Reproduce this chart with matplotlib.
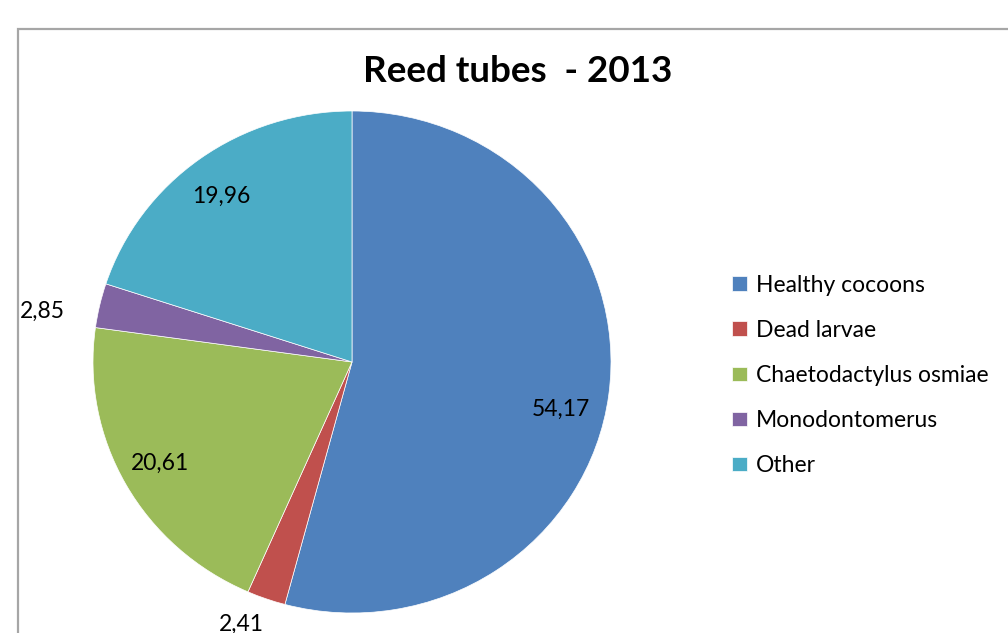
import matplotlib
matplotlib.use('Agg')
import matplotlib.pyplot as plt
import matplotlib.patches as patches

categories = ['Healthy cocoons', 'Dead larvae', 'Chaetodactylus osmiae',
              'Monodontomerus', 'Other']
values = [54.17, 2.41, 20.61, 2.85, 19.96]
value_labels = ['54,17', '2,41', '20,61', '2,85', '19,96']
colors = ['#4F81BD', '#C0504D', '#9BBB59', '#8064A2', '#4BACC6']

# label placement (in pie-radius units), Excel "best fit" look
label_pos = [(0.808, -0.19), (-0.427, -1.045), (-0.742, -0.405),
             (-1.196, 0.202), (-0.504, 0.66)]


def main():
    W, H = 1008, 633
    fig = plt.figure(figsize=(W / 100, H / 100), dpi=100)
    plt.rcParams['font.family'] = ['Lato', 'DejaVu Sans']

    # chart border (cropped at right and bottom)
    fig.add_artist(patches.Rectangle((18 / W, -0.1), 1.2, (H - 29) / H + 0.1,
                                     transform=fig.transFigure, fill=False,
                                     ec='#a6a6a6', lw=1.6))

    # pie is slightly wider than tall in the reference
    cx, cy, rx, ry = 352, 362, 259, 251
    ax = fig.add_axes([(cx - rx) / W, (H - cy - ry) / H, 2 * rx / W, 2 * ry / H])
    wedges, _ = ax.pie(values, colors=colors, startangle=90, counterclock=False,
                       radius=1, wedgeprops=dict(linewidth=0.5, edgecolor='white'))
    ax.set_xlim(-1, 1)
    ax.set_ylim(-1, 1)
    ax.set_aspect('auto')
    ax.axis('off')

    for txt, (x, y) in zip(value_labels, label_pos):
        ax.text(x, y, txt, ha='center', va='center', fontsize=16.5,
                color='black', clip_on=False)

    fig.text(518 / W, 1 - 72 / H, 'Reed tubes  - 2013', ha='center', va='center',
             fontsize=26.5, fontweight='bold')

    fig.legend(wedges, categories, loc='center left',
               bbox_to_anchor=(721 / W, 1 - 375.5 / H), frameon=False,
               fontsize=16.5, handlelength=0.62, handleheight=0.62,
               handletextpad=0.4, labelspacing=1.05, borderpad=0)

    fig.savefig('out.png', dpi=100)


if __name__ == '__main__':
    main()
